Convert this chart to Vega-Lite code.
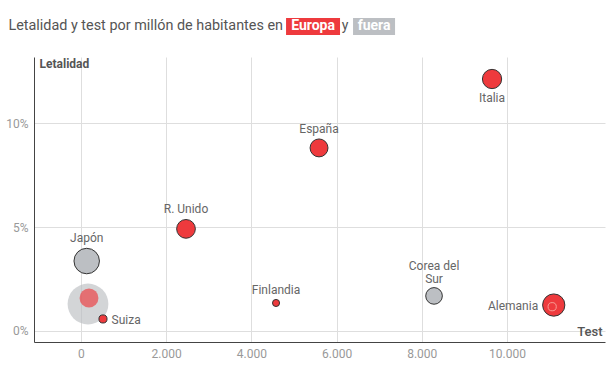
{
  "$schema": "https://vega.github.io/schema/vega-lite/v6.json",
  "width": 571,
  "height": 285,
  "autosize": {"type": "none"},
  "padding": {"left": 34, "top": 57, "right": 2, "bottom": 42},
  "background": "white",
  "config": {"font": "Roboto", "view": {"stroke": null}},
  "datasets": {
    "paises": [
      {"pais": "", "region": "fuera", "test": 167, "letalidad": 1.3, "poblacion": 330},
      {"pais": "", "region": "Europa", "test": 191, "letalidad": 1.59, "poblacion": 67},
      {"pais": "Japón", "region": "fuera", "test": 137, "letalidad": 3.37, "poblacion": 126, "posicion": "arriba"},
      {"pais": "Suiza", "region": "Europa", "test": 519, "letalidad": 0.58, "poblacion": 8.6, "posicion": "derecha"},
      {"pais": "R. Unido", "region": "Europa", "test": 2467, "letalidad": 4.92, "poblacion": 66, "posicion": "arriba"},
      {"pais": "Finlandia", "region": "Europa", "test": 4580, "letalidad": 1.35, "poblacion": 5.5, "posicion": "arriba"},
      {"pais": "España", "region": "Europa", "test": 5589, "letalidad": 8.82, "poblacion": 60, "posicion": "arriba"},
      {"pais": "Corea del\nSur", "region": "fuera", "test": 8288, "letalidad": 1.69, "poblacion": 51, "posicion": "arriba"},
      {"pais": "Italia", "region": "Europa", "test": 9649, "letalidad": 12.14, "poblacion": 70, "posicion": "abajo"},
      {"pais": "Alemania", "region": "Europa", "test": 11097, "letalidad": 1.25, "poblacion": 95, "posicion": "izquierda"},
      {"pais": "", "region": "Europa", "test": 11060, "letalidad": 1.17, "poblacion": 9}
    ],
    "cabecera": [
      {"texto": "Letalidad y test por millón de habitantes en", "grupo": "prefijo", "centro": 4744, "medio": 14.67},
      {"texto": "Europa", "grupo": "Europa", "desde": 4815, "hasta": 6082, "centro": 5448, "arriba": 15.08, "abajo": 14.26, "medio": 14.67},
      {"texto": "y", "grupo": "conector", "centro": 6199, "medio": 14.67},
      {"texto": "fuera", "grupo": "fuera", "desde": 6387, "hasta": 7373, "centro": 6880, "arriba": 15.08, "abajo": 14.26, "medio": 14.67}
    ]
  },
  "layer": [
    {
      "data": {"name": "paises"},
      "mark": {"type": "circle", "strokeWidth": 1},
      "encoding": {
        "x": {
          "field": "test", "type": "quantitative",
          "scale": {"domain": [-1100, 12300], "nice": false, "zero": false},
          "axis": {
            "title": "Test", "titleAlign": "right", "titleAnchor": "end", "titleX": 568, "titleY": -7,
            "titleBaseline": "alphabetic", "titleFontSize": 13, "titleFontWeight": 500, "titleColor": "#555555",
            "values": [0, 2000, 4000, 6000, 8000, 10000],
            "labelExpr": "replace(format(datum.value, ','), ',', '.')",
            "labelFontSize": 12, "labelColor": "#999999", "labelPadding": 6,
            "ticks": false, "domainColor": "#444444", "domainWidth": 1,
            "grid": true, "gridColor": "#dedede"
          }
        },
        "y": {
          "field": "letalidad", "type": "quantitative",
          "scale": {"domain": [-0.53, 13.2], "nice": false, "zero": false},
          "axis": {
            "title": "Letalidad", "titleAngle": 0, "titleAlign": "left", "titleBaseline": "alphabetic",
            "titleX": 5, "titleY": 10, "titleFontSize": 12, "titleFontWeight": "bold", "titleColor": "#555555",
            "values": [0, 5, 10],
            "labelExpr": "datum.value + '%'",
            "labelFontSize": 12, "labelColor": "#999999", "labelPadding": 6,
            "ticks": false, "domainColor": "#444444", "domainWidth": 1,
            "grid": true, "gridColor": "#dedede"
          }
        },
        "size": {
          "field": "poblacion", "type": "quantitative",
          "scale": {"domain": [0, 330], "range": [23, 1663], "zero": false},
          "legend": null
        },
        "color": {
          "field": "region", "type": "nominal",
          "scale": {"domain": ["Europa", "fuera", "conector", "prefijo"], "range": ["#ee3a3d", "#bcbfc3", "#555555", "#555555"]},
          "legend": null
        },
        "opacity": {"condition": {"test": "datum.pais == ''", "value": 0.65}, "value": 1},
        "stroke": {"condition": {"test": "datum.pais == '' && datum.poblacion < 50", "value": "#ffd2c4"}, "value": "#333333"},
        "strokeOpacity": {"condition": {"test": "datum.pais == '' && datum.poblacion >= 50", "value": 0}, "value": 1}
      }
    },
    {
      "data": {"name": "paises"},
      "transform": [{"filter": "datum.pais != ''"}],
      "mark": {
        "type": "text",
        "fontSize": 12,
        "color": "#666666",
        "lineBreak": "\n",
        "lineHeight": 13,
        "align": {"expr": "datum.posicion == 'derecha' ? 'left' : (datum.posicion == 'izquierda' ? 'right' : 'center')"},
        "baseline": {"expr": "datum.posicion == 'arriba' ? 'bottom' : (datum.posicion == 'abajo' ? 'top' : 'middle')"},
        "dx": {"expr": "datum.posicion == 'derecha' ? sqrt(scale('size', datum.poblacion) / PI) + 4 : (datum.posicion == 'izquierda' ? -(sqrt(scale('size', datum.poblacion) / PI) + 3) : 0)"},
        "dy": {"expr": "datum.posicion == 'arriba' ? -(sqrt(scale('size', datum.poblacion) / PI) + 2 + (indexof(datum.pais, '\\n') >= 0 ? 12 : 0)) : (datum.posicion == 'abajo' ? sqrt(scale('size', datum.poblacion) / PI) + 3 : 1)"}
      },
      "encoding": {
        "x": {"field": "test", "type": "quantitative"},
        "y": {"field": "letalidad", "type": "quantitative"},
        "text": {"field": "pais", "type": "nominal"}
      }
    },
    {
      "data": {"name": "cabecera"},
      "transform": [{"filter": "datum.grupo == 'Europa' || datum.grupo == 'fuera'"}],
      "mark": {"type": "rect"},
      "encoding": {
        "x": {"field": "desde", "type": "quantitative"},
        "x2": {"field": "hasta"},
        "y": {"field": "arriba", "type": "quantitative"},
        "y2": {"field": "abajo"},
        "color": {"field": "grupo", "type": "nominal", "legend": null}
      }
    },
    {
      "data": {"name": "cabecera"},
      "mark": {
        "type": "text", "baseline": "middle",
        "fontSize": {"expr": "datum.grupo == 'prefijo' ? 14.4 : 14"},
        "fontWeight": {"expr": "(datum.grupo == 'Europa' || datum.grupo == 'fuera') ? 'bold' : 'normal'"},
        "align": {"expr": "datum.grupo == 'prefijo' ? 'right' : 'center'"}
      },
      "encoding": {
        "x": {"field": "centro", "type": "quantitative"},
        "y": {"field": "medio", "type": "quantitative"},
        "text": {"field": "texto", "type": "nominal"},
        "color": {"condition": {"test": "datum.grupo == 'conector' || datum.grupo == 'prefijo'", "value": "#555555"}, "value": "white"}
      }
    }
  ]
}
